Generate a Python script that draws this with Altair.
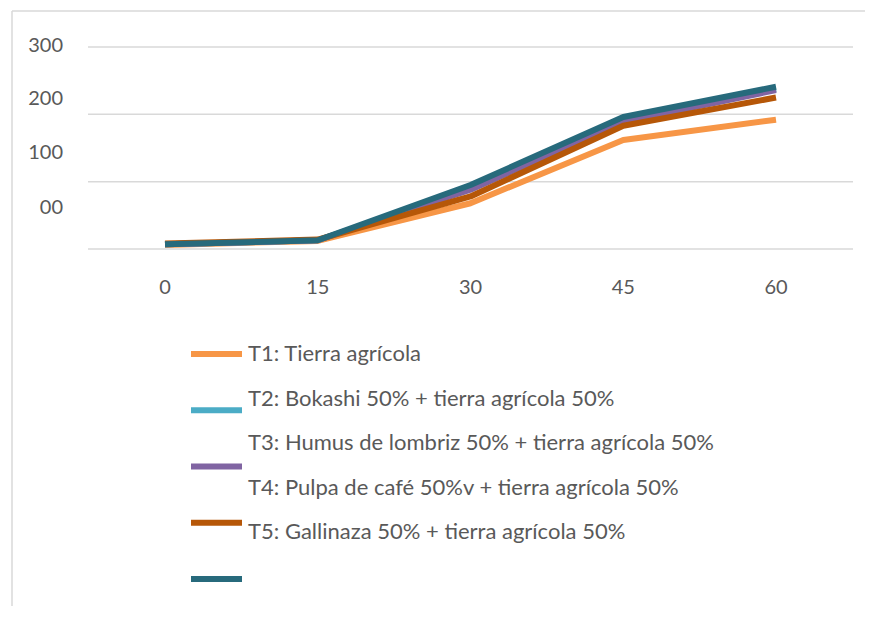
import altair as alt
import pandas as pd

# ---- data ----
days = [0, 15, 30, 45, 60]
series_names = [
    "T1: Tierra agrícola",
    "T2: Bokashi 50% + tierra agrícola 50%",
    "T3: Humus de lombriz 50% + tierra agrícola 50%",
    "T4: Pulpa de café 50%v + tierra agrícola 50%",
    "T5: Gallinaza 50% + tierra agrícola 50%",
]
t1 = [6, 12, 68, 162, 192]
t2 = [7, 13, 90, 190, 238]
t3 = [7, 13, 88, 189, 236]
t4 = [8, 14, 78, 183, 225]
t5 = [7, 13, 95, 196, 241]
series_values = [t1, t2, t3, t4, t5]
colors = ["#F79646", "#4BACC6", "#8064A2", "#B65708", "#276A7C"]

grid_values = [0, 100, 200, 300]
y_tick_labels = ["300", "200", "100", "00"]
y_tick_label_pos = [301, 223, 143, 61]
x_tick_labels = ["0", "15", "30", "45", "60"]

FONT = "Lato"
FS_AXIS = 20
FS_LEG = 22
GRAY = "#595959"
GRID = "#D9D9D9"
W, H = 857, 598

line_df = pd.DataFrame(
    [
        {"day": d, "value": v, "series": s}
        for s, vals in zip(series_names, series_values)
        for d, v in zip(days, vals)
    ]
)
grid_df = pd.DataFrame({"v": grid_values})
ylab_df = pd.DataFrame({"label": y_tick_labels, "pos": y_tick_label_pos})
xlab_df = pd.DataFrame({"day": days, "label": x_tick_labels})
legend_df = pd.DataFrame({"series": series_names, "idx": list(range(len(series_names)))})
one = pd.DataFrame({"a": [0]})

x_scale = alt.Scale(domain=[0, 60], range=[157, 768])
y_scale = alt.Scale(domain=[0, 300], range=[241, 39])
color_scale = alt.Scale(domain=series_names, range=colors)

border_top = alt.Chart(one).mark_rule(color=GRID, strokeWidth=1.5).encode(
    x=alt.value(4), x2=alt.value(W), y=alt.value(3)
)
border_left = alt.Chart(one).mark_rule(color=GRID, strokeWidth=1.5).encode(
    x=alt.value(4), y=alt.value(3), y2=alt.value(H)
)

grid = alt.Chart(grid_df).mark_rule(color=GRID, strokeWidth=1.5).encode(
    y=alt.Y("v:Q", scale=y_scale, axis=None),
    x=alt.value(80),
    x2=alt.value(845),
)

ylabels = alt.Chart(ylab_df).mark_text(
    font=FONT, fontSize=FS_AXIS, color=GRAY, align="right", baseline="middle"
).encode(
    y=alt.Y("pos:Q", scale=y_scale, axis=None),
    x=alt.value(55),
    text="label:N",
)

xlabels = alt.Chart(xlab_df).mark_text(
    font=FONT, fontSize=FS_AXIS, color=GRAY, align="center", baseline="middle"
).encode(
    x=alt.X("day:Q", scale=x_scale, axis=None),
    y=alt.value(280),
    text="label:N",
)

lines = alt.Chart(line_df).mark_line(strokeWidth=6, strokeJoin="round").encode(
    x=alt.X("day:Q", scale=x_scale, axis=None),
    y=alt.Y("value:Q", scale=y_scale, axis=None),
    color=alt.Color("series:N", scale=color_scale, legend=None),
)

leg_sym = alt.Chart(legend_df).mark_rule(strokeWidth=6).encode(
    x=alt.value(183),
    x2=alt.value(234),
    y=alt.Y("idx:Q", scale=alt.Scale(domain=[0, 4], range=[346, 571]), axis=None),
    color=alt.Color("series:N", scale=color_scale, legend=None),
)

leg_txt = alt.Chart(legend_df).mark_text(
    font=FONT, fontSize=FS_LEG, color=GRAY, align="left", baseline="middle"
).encode(
    x=alt.value(240),
    y=alt.Y("idx:Q", scale=alt.Scale(domain=[0, 4], range=[346, 524]), axis=None),
    text="series:N",
)

chart = (
    alt.layer(border_top, border_left, grid, ylabels, xlabels, lines, leg_sym, leg_txt)
    .resolve_scale(x="independent", y="independent")
    .properties(width=W, height=H, padding=0, autosize="none", background="white")
    .configure_view(stroke=None)
)

chart.save("out.html", embed_options={"renderer": "svg", "actions": False})
